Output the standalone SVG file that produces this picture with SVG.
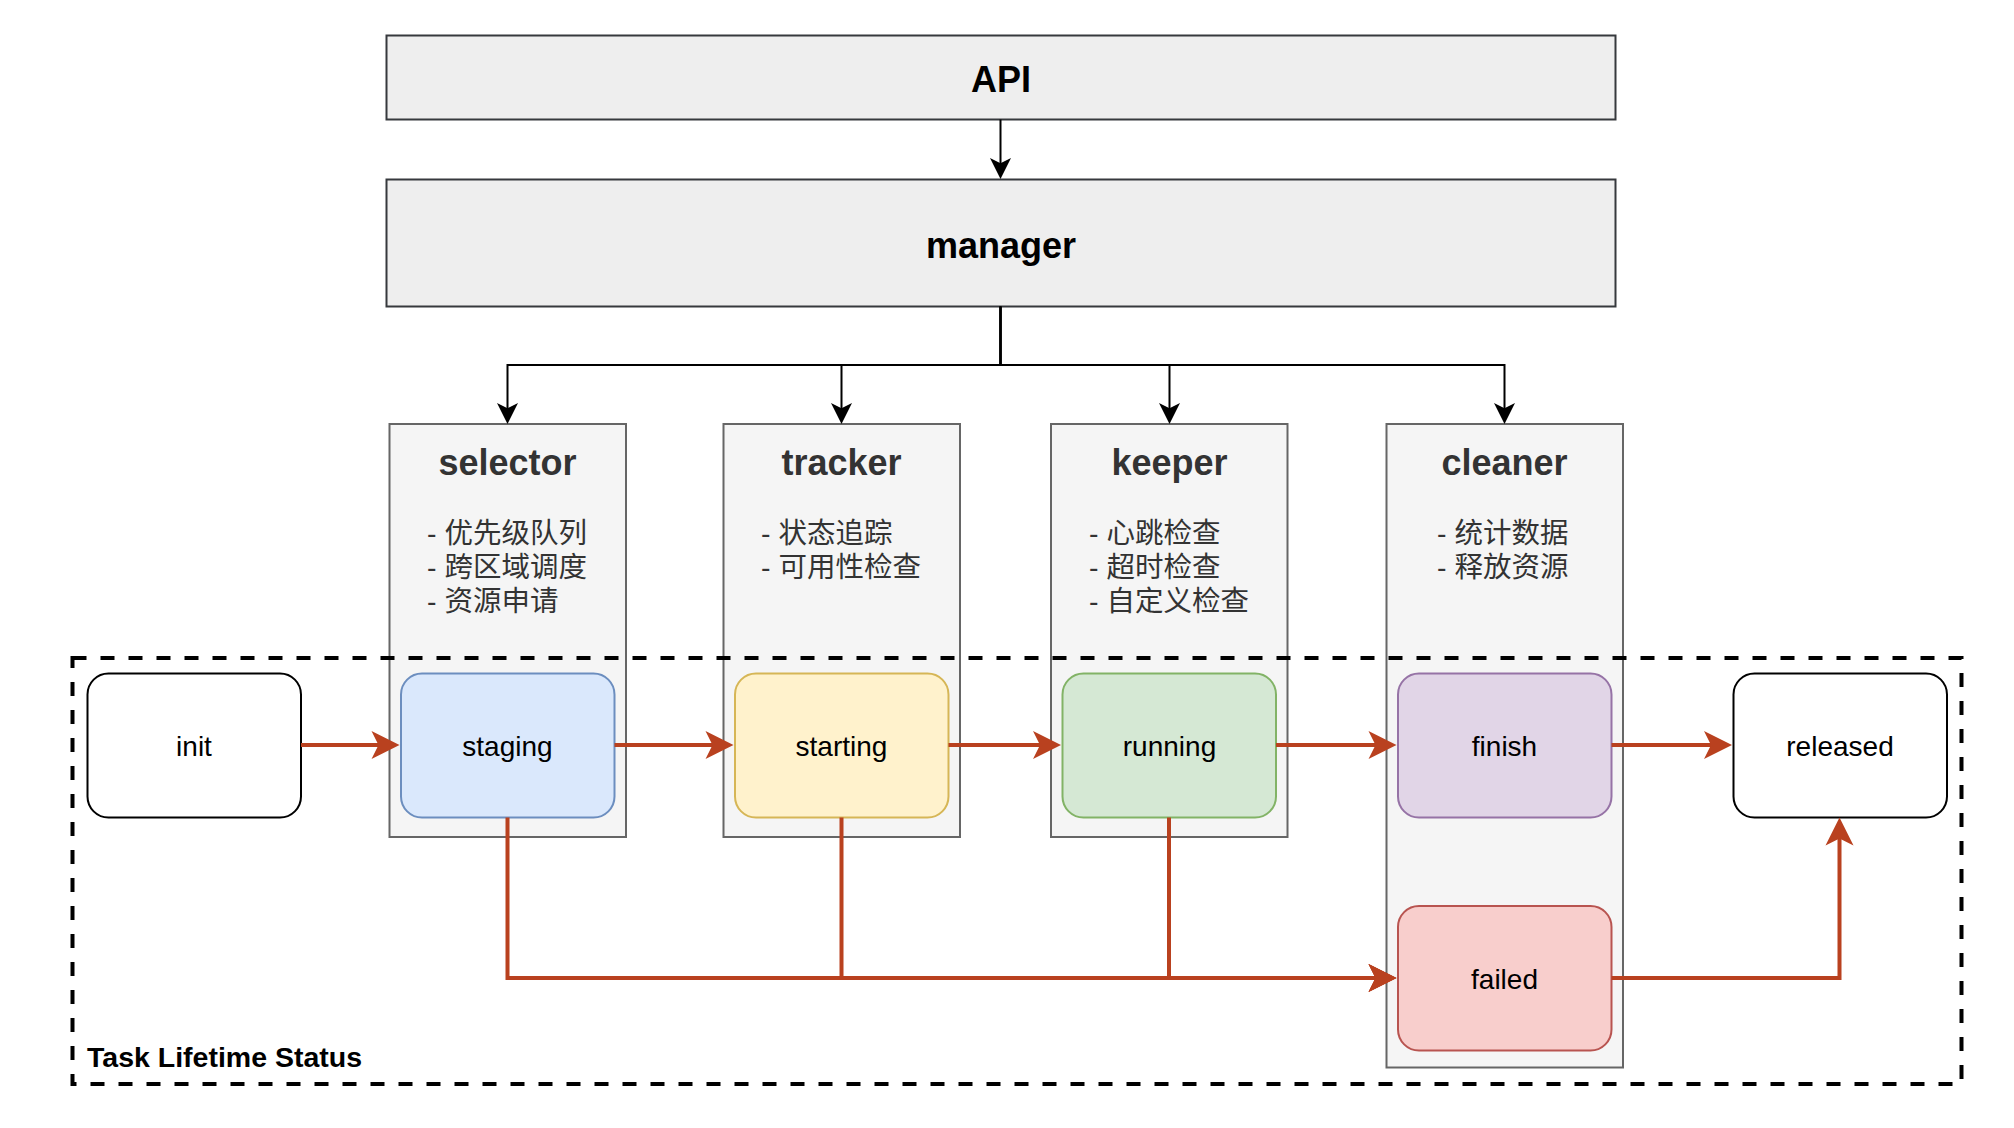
<svg xmlns="http://www.w3.org/2000/svg" width="2014" height="1128" viewBox="0 0 2014 1128">
  <defs>
    <marker id="arrBlack" markerUnits="userSpaceOnUse" markerWidth="21" markerHeight="21" refX="8" refY="10.5" orient="auto" overflow="visible">
      <path d="M0,0 L21,10.5 L0,21 L5.25,10.5 Z" fill="#000000"/>
    </marker>
    <marker id="arrRed" markerUnits="userSpaceOnUse" markerWidth="28" markerHeight="28" refX="10" refY="14" orient="auto" overflow="visible">
      <path d="M0,0 L28,14 L0,28 L7,14 Z" fill="#b9411f"/>
    </marker>
  </defs>
  <style>
    text { font-family: "Liberation Sans", Arial, "Noto Sans CJK SC", sans-serif; }
    .top { fill: #eeeeee; stroke: #36393d; stroke-width: 2; }
    .topLabel { font-size: 36px; font-weight: bold; fill: #000000; text-anchor: middle; }
    .module { fill: #f5f5f5; stroke: #666666; stroke-width: 2; }
    .modTitle { font-size: 36px; font-weight: bold; fill: #333333; text-anchor: middle; }
    .modList { font-size: 28.5px; fill: #333333; }
    .state { stroke-width: 2; }
    .stateLabel { font-size: 28px; fill: #000000; text-anchor: middle; }
    .black { fill: none; stroke: #000000; stroke-width: 2; marker-end: url(#arrBlack); }
    .red { fill: none; stroke: #b9411f; stroke-width: 4; marker-end: url(#arrRed); }
    .boundary { fill: none; stroke: #000000; stroke-width: 4; stroke-dasharray: 14 14; }
  </style>

  <g id="api">
    <rect class="top" x="386.5" y="35.5" width="1229" height="84"/>
    <text class="topLabel" x="1001" y="92">API</text>
  </g>
  <g id="manager">
    <rect class="top" x="386.5" y="179.5" width="1229" height="127"/>
    <text class="topLabel" x="1001" y="258">manager</text>
  </g>

  <g id="selector">
    <rect class="module" x="389.5" y="424" width="236.5" height="413"/>
    <text class="modTitle" x="507.5" y="475">selector</text>
    <text class="modList" x="427" y="543">- 优先级队列</text>
    <text class="modList" x="427" y="577">- 跨区域调度</text>
    <text class="modList" x="427" y="611">- 资源申请</text>
  </g>
  <g id="tracker">
    <rect class="module" x="723.5" y="424" width="236.5" height="413"/>
    <text class="modTitle" x="841.5" y="475">tracker</text>
    <text class="modList" x="761" y="543">- 状态追踪</text>
    <text class="modList" x="761" y="577">- 可用性检查</text>
  </g>
  <g id="keeper">
    <rect class="module" x="1051" y="424" width="236.5" height="413"/>
    <text class="modTitle" x="1169.5" y="475">keeper</text>
    <text class="modList" x="1089" y="543">- 心跳检查</text>
    <text class="modList" x="1089" y="577">- 超时检查</text>
    <text class="modList" x="1089" y="611">- 自定义检查</text>
  </g>
  <g id="cleaner">
    <rect class="module" x="1386.5" y="424" width="236.5" height="643.5"/>
    <text class="modTitle" x="1504.5" y="475">cleaner</text>
    <text class="modList" x="1437" y="543">- 统计数据</text>
    <text class="modList" x="1437" y="577">- 释放资源</text>
  </g>

  <g id="task-lifetime-status">
    <rect class="boundary" x="72.5" y="658" width="1889" height="426"/>
    <text x="87" y="1067" font-size="28.5" font-weight="bold" fill="#000000">Task Lifetime Status</text>
  </g>

  <g id="init">
    <rect class="state" x="87.5" y="673.5" width="213.5" height="144" rx="21" ry="21" fill="#ffffff" stroke="#000000"/>
    <text class="stateLabel" x="194" y="756">init</text>
  </g>
  <g id="staging">
    <rect class="state" x="401" y="673.5" width="213.5" height="144" rx="21" ry="21" fill="#dae8fc" stroke="#6c8ebf"/>
    <text class="stateLabel" x="507.5" y="756">staging</text>
  </g>
  <g id="starting">
    <rect class="state" x="735" y="673.5" width="213.5" height="144" rx="21" ry="21" fill="#fff2cc" stroke="#d6b656"/>
    <text class="stateLabel" x="841.5" y="756">starting</text>
  </g>
  <g id="running">
    <rect class="state" x="1062.5" y="673.5" width="213.5" height="144" rx="21" ry="21" fill="#d5e8d4" stroke="#82b366"/>
    <text class="stateLabel" x="1169.5" y="756">running</text>
  </g>
  <g id="finish">
    <rect class="state" x="1398" y="673.5" width="213.5" height="144" rx="21" ry="21" fill="#e1d5e7" stroke="#9673a6"/>
    <text class="stateLabel" x="1504.5" y="756">finish</text>
  </g>
  <g id="failed">
    <rect class="state" x="1398" y="906" width="213.5" height="144.5" rx="21" ry="21" fill="#f8cecc" stroke="#b85450"/>
    <text class="stateLabel" x="1504.5" y="989">failed</text>
  </g>
  <g id="released">
    <rect class="state" x="1733.5" y="673.5" width="213.5" height="144" rx="21" ry="21" fill="#ffffff" stroke="#000000"/>
    <text class="stateLabel" x="1840" y="756">released</text>
  </g>

  <g id="connectors">
    <path class="black" d="M1000.5,119.5 V166"/>
    <path class="black" d="M1000.5,306.5 V365 H507.5 V411"/>
    <path class="black" d="M1000.5,306.5 V365 H841.5 V411"/>
    <path class="black" d="M1000.5,306.5 V365 H1169.5 V411"/>
    <path class="black" d="M1000.5,306.5 V365 H1504.5 V411"/>

    <path class="red" d="M301,745 H381.5"/>
    <path class="red" d="M614.5,745 H715.5"/>
    <path class="red" d="M948.5,745 H1043"/>
    <path class="red" d="M1276,745 H1378.5"/>
    <path class="red" d="M1611.5,745 H1714"/>
    <path class="red" d="M507.5,817.5 V978 H1378.5"/>
    <path class="red" d="M841.5,817.5 V978 H1378.5"/>
    <path class="red" d="M1169,817.5 V978 H1378.5"/>
    <path class="red" d="M1611.5,978 H1839.5 V835.5"/>
  </g>
</svg>
